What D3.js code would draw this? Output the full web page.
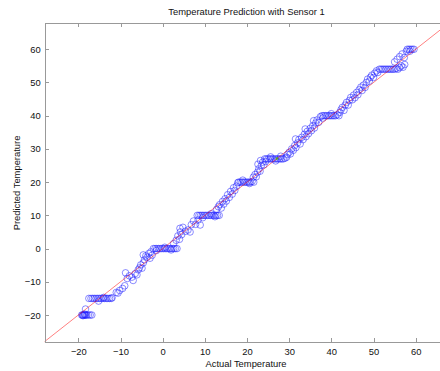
<!DOCTYPE html>
<html><head><meta charset="utf-8">
<script src="https://cdn.jsdelivr.net/npm/d3@7"></script>
<style>html,body{margin:0;padding:0;background:#fff;}svg{display:block;}</style>
</head><body>
<svg id="chart" width="440" height="371"></svg>
<script>
const title = "Temperature Prediction with Sensor 1";
const xLabel = "Actual Temperature";
const yLabel = "Predicted Temperature";
const xTicks = [-20, -10, 0, 10, 20, 30, 40, 50, 60];
const yTicks = [-20, -10, 0, 10, 20, 30, 40, 50, 60];
const axisDomain = [-28, 68];

// Actual temperature (x) and predicted temperature (y)
const actual = [
 -19.2,-19,-18.8,-18.6,-18.4,-18.2,-18,-17.6,-17.2,-16.8,-18.5,-18.9,-18.3,
 -17.5,-17,-16.6,-16.2,-15.8,-15.4,-15,-14.6,-14.2,-13.8,-13.4,-13,-12.6,-12.2,-15.2,-14,-12,
 -11,-10.6,-10.2,-9.5,-9,-8.8,-8.4,-7.9,-7.3,-7,-6.5,-6.1,-5.8,-5.5,-5.2,-4.9,-4.6,-4.3,-4.6,-4,-3.7,-3.3,-3,-2.8,-2.5,
 -2.2,-1.8,-1.4,-1,-0.6,-0.2,0.2,0.6,1,1.4,1.8,2.2,2.6,3,3.4,-1.5,0.5,2,
 2.6,3.2,3.6,4,4.2,4.5,4.8,4.1,5.4,6,6.5,6.8,7.3,7.8,8.4,8.9,
 8.2,8.6,9,9.4,9.8,10.2,10.6,11,11.4,11.8,12.2,12.6,13,13.4,9.5,11.5,12.4,
 12.8,13.2,13.5,13.9,14.2,14.5,14.8,15.1,15.4,15.8,16.1,16.5,16.8,17.1,17.5,17.8,
 18,18.4,18.8,19.2,19.6,20,20.4,20.8,21.2,21.6,19,20.6,
 21.5,21.9,22.2,22.5,22.8,23.1,23.4,23.7,23.2,24,24.4,22.6,
 24.2,24.6,25,25.4,25.8,26.2,26.6,27,27.4,27.8,28.2,28.6,29,29.4,25.6,26.8,28,
 29.6,30,30.3,30.6,31,31.3,31.6,32,32.3,32.6,33,33.3,33.6,34,34.3,34.6,35,35.3,35.6,36,36.3,36.6,37,31.5,33.8,35.8,
 37.4,37.8,38.2,38.6,39,39.4,39.8,40.2,40.6,41,41.4,41.8,38,40,
 42,42.3,42.6,43,43.3,43.6,44,44.3,44.6,45,45.3,45.6,46,46.3,46.6,47,47.3,47.6,48,48.3,48.6,49,49.3,49.6,50,50.3,50.7,51,
 51.4,51.8,52.2,52.6,53,53.4,53.8,54.2,54.6,55,55.4,55.8,56.2,56.6,57,57.4,
 55,55.6,56.2,56.8,57.3,57.8,58,58.4,58.8,59.2,59.6,58.6
];
const predicted = [
 -20,-20,-20,-20,-20,-20,-20,-20,-20,-20,-19.7,-20.2,-18.2,
 -15,-15,-15,-15,-15,-15,-15,-15,-15,-15,-15,-15,-15,-15,-15.8,-14.7,-14.8,
 -13.2,-13.4,-12.6,-12,-11.2,-7.3,-9,-8.2,-8.6,-9.6,-7.5,-7.9,-6.4,-5.8,-4.9,-5.9,-4.3,-3.4,-1.9,-2.2,-2.6,-1.5,-2.9,-1,-2,
 0,0,0,0,0,0,0,0,0,0,0,0,0,0,0,-0.6,0.4,-0.4,
 1.5,2.5,3.8,2.8,5,4.2,6.4,6.1,5.2,5.6,5,7.2,8.3,7.3,8.6,7.1,
 10,10,10,10,10,10,10,10,10,10,10,10,10,10,9.3,10.5,9.6,
 11.8,12.6,13.2,12.2,14.2,13.4,15,14.3,16.2,15.4,17.2,16.4,18.3,17.5,18.8,19.8,
 20,20,20,20,20,20,20,20,20.2,20,20.6,19.6,
 21.5,22.3,21.6,23,24,23.3,25,26,26.5,25.2,26.2,25.4,
 27,27,27,27,27,27,27,27,27,27,27,27,27.2,27.5,27.6,26.4,27.8,
 28.3,29,28.5,30,29.6,31,30.4,31.8,32.8,31.5,33.5,32.8,34.4,33.7,35.3,34.6,36.2,35.5,37,36.3,37.8,38.7,38,33,36,38.5,
 39.7,40,40,40,40,40,40,40,40,40,40.3,40,39.3,40.6,
 41,41.8,42.5,41.6,43.2,44,43.2,44.6,45.5,44.8,46.2,45.4,47,46.3,47.8,48.6,47.6,49.2,48.5,50,51,50.4,51.6,52.2,51.5,52.8,53.5,53,
 54,54,54,54,54,54,54,54,54,54,54.2,54,54.5,55,54.6,55.4,
 56.2,57,57.8,58.6,57.5,59.4,60,60,60,60,60,59.4
];
const highlightActual = [27.1];
const highlightPredicted = [27.1];

const svg = d3.select("#chart");
const L = 44.6, R = 449.4, T = 22.7, B = 341.6;
const x = d3.scaleLinear().domain(axisDomain).range([L, R]);
const y = d3.scaleLinear().domain(axisDomain).range([B, T]);
const font = "'Liberation Sans', Arial, Helvetica, sans-serif";
const fmt = d => (d < 0 ? "\u2212" + Math.abs(d) : String(d));

// scatter
svg.append("g").selectAll("circle").data(d3.range(actual.length)).join("circle")
  .attr("cx", i => x(actual[i])).attr("cy", i => y(predicted[i])).attr("r", 3.3)
  .attr("fill", "none").attr("stroke", "#1a1aff").attr("stroke-width", 0.5);

// highlighted point
svg.append("g").selectAll("circle").data(highlightActual).join("circle")
  .attr("cx", (d) => x(d)).attr("cy", (d, i) => y(highlightPredicted[i])).attr("r", 1)
  .attr("fill", "#33cc33").attr("stroke", "#33cc33").attr("stroke-width", 0.8);

// y = x line
svg.append("line")
  .attr("x1", x(axisDomain[0])).attr("y1", y(axisDomain[0]))
  .attr("x2", x(axisDomain[1])).attr("y2", y(axisDomain[1]))
  .attr("stroke", "#ff0000").attr("stroke-width", 0.5);

// axes (inward ticks, box)
const axCol = "#999";
const gB = svg.append("g").attr("transform", `translate(0,${B})`)
  .call(d3.axisBottom(x).tickValues(xTicks).tickSizeInner(-4).tickSizeOuter(0).tickPadding(6.5).tickFormat(fmt));
const gT = svg.append("g").attr("transform", `translate(0,${T})`)
  .call(d3.axisTop(x).tickValues(xTicks).tickSizeInner(-4).tickSizeOuter(0).tickFormat(""));
const gL = svg.append("g").attr("transform", `translate(${L},0)`)
  .call(d3.axisLeft(y).tickValues(yTicks).tickSizeInner(-4).tickSizeOuter(0).tickPadding(4).tickFormat(fmt));
const gR = svg.append("g").attr("transform", `translate(${R},0)`)
  .call(d3.axisRight(y).tickValues(yTicks).tickSizeInner(-4).tickSizeOuter(0).tickFormat(""));
[gB, gT, gL, gR].forEach(g => {
  g.selectAll("path.domain").attr("stroke", axCol).attr("stroke-width", 1).attr("shape-rendering", "crispEdges");
  g.selectAll(".tick line").attr("stroke", axCol).attr("stroke-width", 1).attr("shape-rendering", "crispEdges");
  g.selectAll("text").attr("fill", "#111").style("font-family", font).style("font-size", "9.4px");
});

// titles
svg.append("text").attr("x", 246.5).attr("y", 15.3).attr("text-anchor", "middle")
  .style("font-family", font).style("font-size", "9.4px").attr("fill", "#111").text(title);
svg.append("text").attr("x", 246).attr("y", 366.5).attr("text-anchor", "middle")
  .style("font-family", font).style("font-size", "9.4px").attr("fill", "#111").text(xLabel);
svg.append("text").attr("transform", "translate(19.5,183) rotate(-90)").attr("text-anchor", "middle")
  .style("font-family", font).style("font-size", "9.4px").attr("fill", "#111").text(yLabel);
</script>
</body></html>
